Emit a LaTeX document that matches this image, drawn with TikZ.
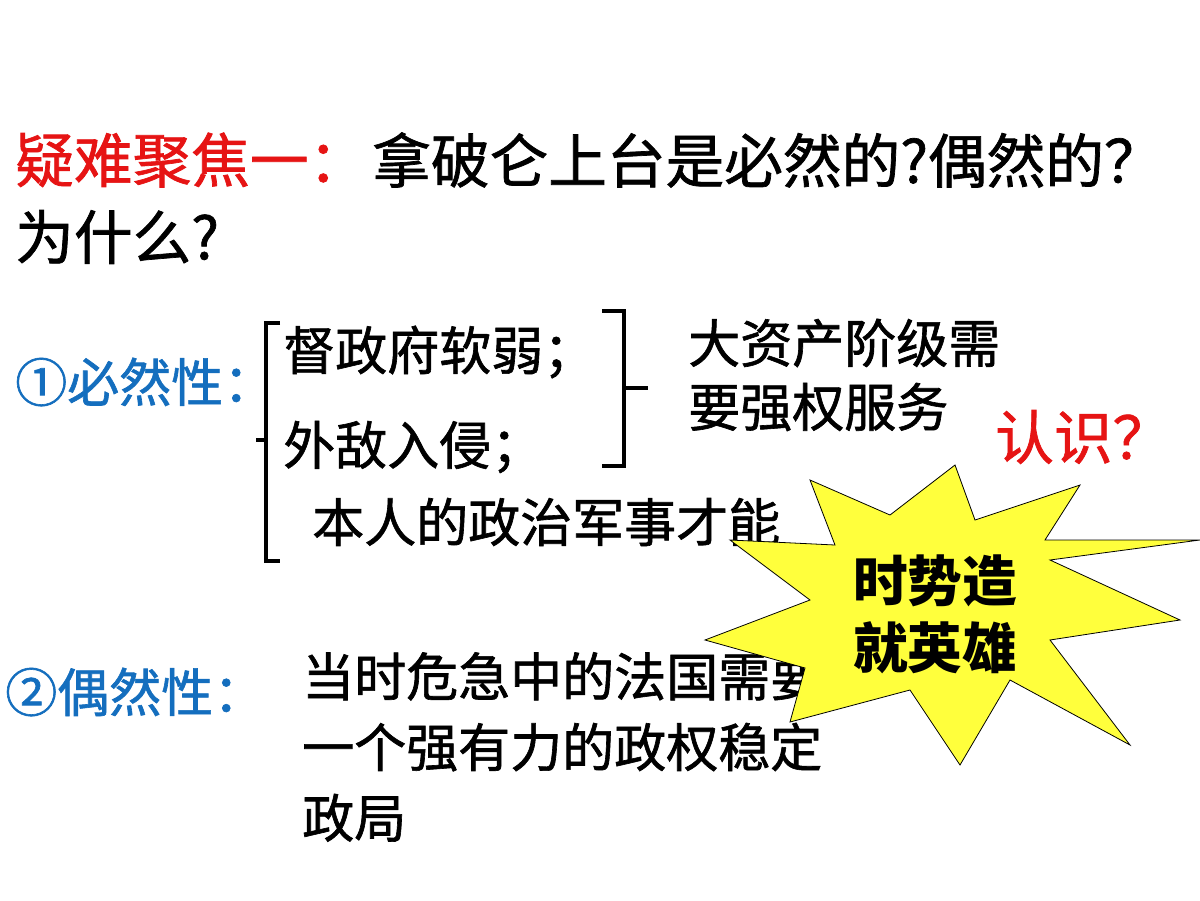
\documentclass[tikz,border=0pt]{standalone}
\usepackage{fontspec}
\setmainfont{Noto Sans CJK SC}
\newfontfamily\cjk[FakeBold=1.2]{Noto Sans CJK SC}
\newfontfamily\cjkb{Noto Sans CJK SC}
\definecolor{tred}{RGB}{230,20,20}
\definecolor{tblue}{RGB}{20,110,190}
\definecolor{starY}{RGB}{255,255,60}
\begin{document}
\begin{tikzpicture}[x=0.75pt,y=-0.75pt,
  big/.style={anchor=west,inner sep=0,font=\cjk\fontsize{44}{50}\selectfont},
  body/.style={anchor=west,inner sep=0,font=\cjk\fontsize{39}{48}\selectfont},
  brk/.style={line width=2.8pt}]
\useasboundingbox (0,0) rectangle (1200,900);
\fill[white] (0,0) rectangle (1200,900);
\node[big,text=tred] (t1) at (15,160) {疑难聚焦一：};
\node[big] (t2) at (372,160) {拿破仑上台是必然的?偶然的？};
\node[big] (t3) at (15,237) {为什么?};
\node[body,text=tblue] (n1) at (15,382) {①必然性：};
\node[body] (a1) at (283,352) {督政府软弱；};
\node[body] (a2) at (283,447) {外敌入侵；};
\node[body] (a3) at (312,522) {本人的政治军事才能};
\node[body] (b1) at (688,343) {大资产阶级需};
\node[body] (b2) at (688,407) {要强权服务};
\node[big,text=tred] (r) at (995,437) {认识？};
\node[body,text=tblue] (n2) at (5,692) {②偶然性：};
\node[body,align=left,anchor=north west] (c) at (302,652) {当时危急中的法国需要\\[5pt]一个强有力的政权稳定\\[5pt]政局};
% starburst
\fill[starY,draw=black,line width=0.6pt]
 (1200,540) -- (1050,560) -- (1180,620) -- (1050,640) -- (1130,745) -- (1010,680)
 -- (960,765) -- (910,690) -- (790,722) -- (805,668) -- (705,640) -- (810,600)
 -- (730,540) -- (835,545) -- (810,480) -- (890,515) -- (955,465) -- (975,520)
 -- (1080,485) -- (1045,540) -- cycle;
\node[font=\cjkb\bfseries\fontsize{41}{50}\selectfont,align=center,inner sep=0] (s) at (935,614) {时势造\\就英雄};
% left bracket
\draw[brk] (280,323) -- (266,323) -- (266,561) -- (280,561);
\draw[brk] (266,440) -- (256,440);
% right brace
\draw[brk] (602,311) -- (624,311) -- (624,388) -- (648,388);
\draw[brk] (624,388) -- (624,466) -- (602,466);
\end{tikzpicture}
\end{document}
